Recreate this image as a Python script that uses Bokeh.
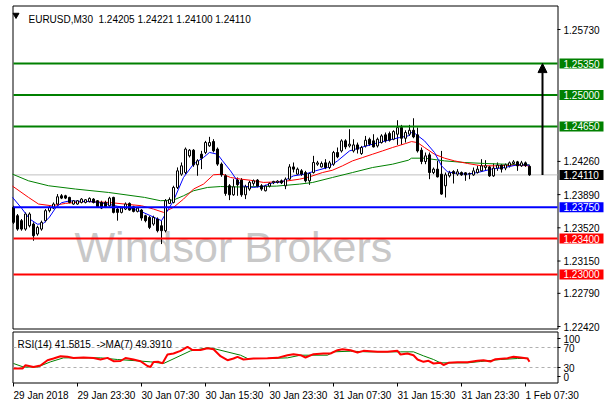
from bokeh.plotting import figure
from bokeh.models import Range1d, Arrow, NormalHead, ColumnDataSource
from bokeh.core.properties import value
from bokeh.embed import file_html
from bokeh.resources import INLINE

# ---------------- data ----------------
symbol = "EURUSD"
timeframe = "M30"
last_ohlc = [1.24205, 1.24221, 1.24100, 1.24110]
rsi_last = 41.5815
rsi_ma_last = 49.3910

opens = [1.23748, 1.23655, 1.23600, 1.23506, 1.23543, 1.23562, 1.23451, 1.23506, 1.23600, 1.23711,
         1.23740, 1.23785, 1.23877, 1.23877, 1.23859, 1.23785, 1.23785, 1.23803, 1.23803, 1.23814,
         1.23840, 1.23822, 1.23803, 1.23803, 1.23766, 1.23859, 1.23729, 1.23692, 1.23729, 1.23792,
         1.23755, 1.23703, 1.23718, 1.23655, 1.23636, 1.23562, 1.23618, 1.23543, 1.23488, 1.23792,
         1.23803, 1.23970, 1.24118, 1.24137, 1.24322, 1.24385, 1.24222, 1.24341, 1.24360, 1.24434,
         1.24482, 1.24397, 1.24230, 1.24100, 1.23989, 1.23888, 1.24052, 1.24052, 1.23888, 1.23952,
         1.24015, 1.24052, 1.23989, 1.23933, 1.23985, 1.24022, 1.24025, 1.24044, 1.23988, 1.24062,
         1.24199, 1.24118, 1.24155, 1.24136, 1.24044, 1.24136, 1.24229, 1.24199, 1.24244, 1.24192,
         1.24229, 1.24359, 1.24377, 1.24489, 1.24433, 1.24377, 1.24444, 1.24348, 1.24433, 1.24507,
         1.24489, 1.24433, 1.24470, 1.24556, 1.24570, 1.24507, 1.24563, 1.24637, 1.24518, 1.24563,
         1.24607, 1.24556, 1.24385, 1.24259, 1.24333, 1.24136, 1.24174, 1.24118, 1.23988, 1.24099,
         1.24148, 1.24118, 1.24136, 1.24133, 1.24118, 1.24110, 1.24136, 1.24155, 1.24192, 1.24199,
         1.24099, 1.24185, 1.24218, 1.24185, 1.24211, 1.24237, 1.24255, 1.24211, 1.24244, 1.24205]
highs = [1.23766, 1.23674, 1.23618, 1.23692, 1.23692, 1.23581, 1.23543, 1.23600, 1.23729, 1.23766,
         1.23803, 1.23896, 1.23896, 1.23888, 1.23866, 1.23829, 1.23829, 1.23851, 1.23840, 1.23859,
         1.23851, 1.23829, 1.23822, 1.23822, 1.23866, 1.23866, 1.23740, 1.23748, 1.23803, 1.23803,
         1.23766, 1.23748, 1.23729, 1.23666, 1.23655, 1.23655, 1.23636, 1.23600, 1.23840, 1.23859,
         1.23989, 1.24193, 1.24248, 1.24415, 1.24397, 1.24397, 1.24285, 1.24378, 1.24489, 1.24534,
         1.24508, 1.24415, 1.24248, 1.24118, 1.24007, 1.24063, 1.24081, 1.24074, 1.24000, 1.24044,
         1.24059, 1.24063, 1.24007, 1.24000, 1.24029, 1.24044, 1.24051, 1.24058, 1.24081, 1.24229,
         1.24248, 1.24192, 1.24174, 1.24155, 1.24136, 1.24322, 1.24266, 1.24259, 1.24285, 1.24266,
         1.24377, 1.24415, 1.24507, 1.24507, 1.24619, 1.24507, 1.24470, 1.24433, 1.24544, 1.24526,
         1.24563, 1.24526, 1.24563, 1.24582, 1.24593, 1.24607, 1.24719, 1.24667, 1.24607, 1.24667,
         1.24741, 1.24637, 1.24415, 1.24359, 1.24359, 1.24192, 1.24266, 1.24377, 1.24136, 1.24155,
         1.24162, 1.24174, 1.24148, 1.24140, 1.24136, 1.24192, 1.24211, 1.24285, 1.24274, 1.24211,
         1.24237, 1.24248, 1.24229, 1.24237, 1.24259, 1.24274, 1.24266, 1.24266, 1.24259, 1.24221]
lows = [1.23562, 1.23488, 1.23488, 1.23488, 1.23525, 1.23376, 1.23432, 1.23488, 1.23581, 1.23692,
        1.23729, 1.23766, 1.23840, 1.23840, 1.23792, 1.23777, 1.23777, 1.23792, 1.23792, 1.23803,
        1.23792, 1.23748, 1.23729, 1.23740, 1.23755, 1.23681, 1.23600, 1.23681, 1.23718, 1.23711,
        1.23692, 1.23692, 1.23600, 1.23581, 1.23506, 1.23543, 1.23469, 1.23339, 1.23469, 1.23785,
        1.23792, 1.23952, 1.24100, 1.24118, 1.24304, 1.24200, 1.24100, 1.24174, 1.24341, 1.24423,
        1.24360, 1.24211, 1.24089, 1.23877, 1.23829, 1.23877, 1.23877, 1.23866, 1.23840, 1.23933,
        1.23989, 1.23970, 1.23933, 1.23926, 1.23970, 1.24007, 1.24014, 1.24007, 1.23951, 1.24051,
        1.24137, 1.24110, 1.24099, 1.24025, 1.23999, 1.24125, 1.24211, 1.24192, 1.24174, 1.24174,
        1.24211, 1.24296, 1.24359, 1.24396, 1.24415, 1.24359, 1.24348, 1.24333, 1.24415, 1.24433,
        1.24415, 1.24415, 1.24459, 1.24470, 1.24481, 1.24496, 1.24444, 1.24444, 1.24470, 1.24544,
        1.24518, 1.24359, 1.24229, 1.24229, 1.24062, 1.24118, 1.24081, 1.23888, 1.23858, 1.24081,
        1.24014, 1.24099, 1.24099, 1.24044, 1.24062, 1.24099, 1.24125, 1.24148, 1.24155, 1.24088,
        1.24088, 1.24155, 1.24136, 1.24162, 1.24192, 1.24222, 1.24155, 1.24199, 1.24199, 1.24100]
closes = [1.23581, 1.23506, 1.23506, 1.23674, 1.23674, 1.23432, 1.23525, 1.23581, 1.23711, 1.23748,
          1.23785, 1.23866, 1.23851, 1.23851, 1.23803, 1.23822, 1.23822, 1.23840, 1.23833, 1.23848,
          1.23803, 1.23755, 1.23740, 1.23748, 1.23851, 1.23692, 1.23692, 1.23740, 1.23785, 1.23718,
          1.23703, 1.23740, 1.23629, 1.23600, 1.23525, 1.23636, 1.23488, 1.23488, 1.23822, 1.23836,
          1.23970, 1.24155, 1.24211, 1.24397, 1.24385, 1.24222, 1.24267, 1.24296, 1.24471, 1.24471,
          1.24378, 1.24230, 1.24111, 1.23903, 1.23888, 1.23977, 1.24000, 1.23888, 1.23977, 1.24026,
          1.24044, 1.23985, 1.23952, 1.23985, 1.24015, 1.24037, 1.24040, 1.24021, 1.24062, 1.24199,
          1.24174, 1.24174, 1.24118, 1.24044, 1.24125, 1.24248, 1.24244, 1.24237, 1.24192, 1.24244,
          1.24359, 1.24311, 1.24489, 1.24422, 1.24452, 1.24444, 1.24396, 1.24415, 1.24496, 1.24452,
          1.24422, 1.24507, 1.24544, 1.24489, 1.24496, 1.24593, 1.24637, 1.24518, 1.24582, 1.24607,
          1.24533, 1.24377, 1.24259, 1.24322, 1.24136, 1.24174, 1.24088, 1.23896, 1.24110, 1.24133,
          1.24125, 1.24144, 1.24110, 1.24110, 1.24125, 1.24155, 1.24174, 1.24211, 1.24211, 1.24099,
          1.24185, 1.24218, 1.24174, 1.24222, 1.24244, 1.24255, 1.24211, 1.24244, 1.24214, 1.24110]

# moving averages read at sample bars (bar index, price)
ma_fast_idx = [-0.25, 2, 4, 6, 7.5, 9, 10.5, 12, 14, 17, 20, 23, 26, 29, 32, 34, 37, 40, 42.5, 45,
               47.5, 49, 51, 52.25, 54.25, 56, 57.5, 60, 62.5, 65, 67, 70, 73, 75.5, 78.5, 81, 84,
               86.5, 89.75, 93, 96.5, 98.75, 99.5, 100.25, 102.75, 105.25, 107, 108.5, 111, 113.5,
               116, 119.5, 122.75, 126, 129]
ma_fast_val = [1.23860, 1.23740, 1.23620, 1.23560, 1.23570, 1.23640, 1.23740, 1.23800, 1.23820, 1.23815,
               1.23810, 1.23790, 1.23760, 1.23740, 1.23700, 1.23660, 1.23600, 1.23822, 1.24081, 1.24230,
               1.24304, 1.24360, 1.24340, 1.24267, 1.24155, 1.24040, 1.23985, 1.23970, 1.23985, 1.24025,
               1.24030, 1.24099, 1.24120, 1.24155, 1.24192, 1.24266, 1.24377, 1.24410, 1.24452, 1.24489,
               1.24526, 1.24545, 1.24582, 1.24575, 1.24489, 1.24359, 1.24211, 1.24144, 1.24125, 1.24118,
               1.24136, 1.24174, 1.24192, 1.24222, 1.24218]
ma_mid_idx = [-0.25, 3.75, 6.25, 9.5, 13, 18, 23.75, 32, 35, 37.5, 40, 42.5, 45, 47.5, 50, 52.25, 54.25,
              56.75, 59.25, 62.5, 65, 68, 71.5, 74, 77.25, 79.75, 82.25, 84.75, 87.25, 89.75, 92.25,
              94.75, 98, 99.5, 101, 102.75, 105.25, 107.75, 110.25, 113.5, 117, 120.25, 125.25, 129]
ma_mid_val = [1.23985, 1.23859, 1.23785, 1.23766, 1.23792, 1.23814, 1.23803, 1.23766, 1.23729, 1.23692,
              1.23748, 1.23840, 1.23952, 1.24007, 1.24111, 1.24118, 1.24081, 1.24063, 1.24050, 1.24026,
              1.24030, 1.24040, 1.24062, 1.24088, 1.24136, 1.24162, 1.24211, 1.24266, 1.24303, 1.24340,
              1.24377, 1.24415, 1.24459, 1.24481, 1.24470, 1.24415, 1.24340, 1.24296, 1.24266, 1.24237,
              1.24211, 1.24211, 1.24218, 1.24211]
ma_slow_idx = [-0.25, 3.75, 8.75, 15.5, 23.75, 32.75, 36.75, 40, 42.5, 45, 48.5, 51.75, 56.75, 65.75,
               71.5, 74.75, 79.75, 84.75, 89.75, 94.75, 98.75, 99.5, 102.75, 107.75, 112.75, 117.75,
               122.75, 129]
ma_slow_val = [1.24118, 1.24044, 1.23989, 1.23952, 1.23914, 1.23859, 1.23822, 1.23830, 1.23877, 1.23933,
               1.23970, 1.23980, 1.23975, 1.23985, 1.24007, 1.24025, 1.24081, 1.24136, 1.24192, 1.24229,
               1.24274, 1.24296, 1.24296, 1.24266, 1.24248, 1.24237, 1.24229, 1.24222]

# RSI(14) and its MA(7), read at sample bars
rsi_idx = [0, 2.25, 3, 5, 6.75, 8.5, 10, 11.75, 13.5, 15, 17.5, 20, 21.75, 23.5, 25, 26.75, 28, 30,
           31.75, 33.5, 34.25, 35, 36.25, 37.25, 38.5, 40, 41.75, 43.5, 44.75, 46.75, 48.5, 50, 51.75,
           53.5, 55, 56, 57.5, 60, 63.5, 66, 68.5, 70, 71.75, 73, 75, 77.5, 79.25, 81, 82.25, 84.25, 86,
           87.5, 91, 93.5, 96, 96.75, 98.5, 100, 101, 102.5, 103.75, 105, 106.75, 107.5, 108.75, 111,
           113.5, 116, 117.5, 119.25, 120.5, 123.5, 125, 126.75, 128.5, 129]
rsi_val = [28, 28, 34.6, 31, 34, 44.6, 48, 52.6, 51.3, 49, 50, 49, 46, 49.3, 42.6, 43, 49, 46,
           42.6, 33, 31, 41, 41.3, 38.6, 56, 58, 63.3, 71.3, 65, 65, 68.6, 66.6, 52.6,
           44.6, 48, 51.3, 46, 48, 48.6, 49.3, 54.6, 56.6, 54.6, 50, 56.6, 58, 58, 64.6, 66.6, 64.6, 60,
           63.3, 61.3, 61.3, 63.3, 56, 58, 54.6, 46, 41.3, 43.3, 38, 39.3, 35, 39.3, 40.6,
           40.6, 43.3, 44.6, 42, 46.6, 48.6, 51.3, 50, 48, 41.58]
rsi_ma_idx = [0, 2.5, 6, 9.25, 12.5, 21.75, 26, 31, 34.25, 37.5, 44.25, 48.5, 50, 56.75, 58.5, 63.5,
              68.5, 71.75, 74.25, 78.5, 80, 84.25, 88.5, 96.75, 100, 102.5, 105, 106.75, 113.5, 116.75,
              121.75, 126, 128.75]
rsi_ma_val = [38, 31, 31, 41.3, 49.3, 49.3, 46, 43.3, 41.3, 38, 63.3, 69.3, 68, 54.6, 48, 48,
              49.3, 54.6, 54.6, 54.6, 61.3, 62.6, 61.3, 61.3, 61.3, 53.3, 46, 39.3, 39.3, 42,
              46, 48, 48.6]
rsi_levels = [70, 30]
rsi_tick_vals = [88, 70, 30, 12]
rsi_tick_labels = ["100", "70", "30", "0"]

# horizontal levels
level_prices = [1.25350, 1.25000, 1.24650, 1.23750, 1.23400, 1.23000]
level_colors = ["#008000", "#008000", "#008000", "#0000FF", "#FF0000", "#FF0000"]
current_price = 1.24110
target_price = 1.25350

price_ticks = [1.25730, 1.24260, 1.23890, 1.23520, 1.23150, 1.22790, 1.22420]
time_tick_idx = [0, 16, 32, 48, 64, 80, 96, 112, 128]
time_tick_labels = ["29 Jan 2018", "29 Jan 23:30", "30 Jan 07:30", "30 Jan 15:30", "30 Jan 23:30",
                    "31 Jan 07:30", "31 Jan 15:30", "31 Jan 23:30", "1 Feb 07:30"]
watermark = "Windsor Brokers"

# ---------------- layout geometry (pixels) ----------------
W, H = 606, 404
FONT = value("Liberation Sans")
FS = "10px"
NB = "\u00a0"


def xd(px):      # pixel column -> bar index
    return (px - 13) / 4.0


def yd(py):      # pixel row -> price
    return 1.25730 - (py - 29) / 8974.0


def rd(py):      # pixel row -> RSI value
    return (382 - py) / 0.5


PX = 1 / 8974.0  # one pixel in price units

p = figure(width=W, height=H, x_range=Range1d(xd(0), xd(W)), y_range=Range1d(yd(H), yd(0)),
           output_backend="svg", toolbar_location=None, min_border=0,
           x_axis_location=None, y_axis_location=None)
p.extra_y_ranges = {"rsi": Range1d(rd(H), rd(0))}
p.grid.visible = False
p.outline_line_color = None
p.background_fill_color = "white"
p.border_fill_color = "white"

# watermark
p.text(x=[xd(74)], y=[yd(246)], text=[watermark], text_font=FONT,
       text_font_size="43px", text_color="#C8C8C8", text_align="left", text_baseline="alphabetic")

# panel frames
p.quad(left=[xd(12.5), xd(12.5)], right=[xd(557.5), xd(557.5)],
       top=[yd(5.5), yd(331.5)], bottom=[yd(328.5), yd(382.5)],
       fill_color=None, line_color="black", line_width=1)

# current price line
p.segment(x0=[xd(13)], x1=[xd(557)], y0=[current_price], y1=[current_price],
          line_color="#C0C0C0", line_width=1)

# candles
idx = list(range(len(closes)))
bull = [c >= o for o, c in zip(opens, closes)]
src = ColumnDataSource(dict(
    x=idx, high=highs, low=lows,
    top=[max(o, c) for o, c in zip(opens, closes)],
    bottom=[min(o, c) for o, c in zip(opens, closes)],
    fill=["white" if b else "black" for b in bull]))
p.segment(x0="x", y0="low", x1="x", y1="high", source=src, line_color="black", line_width=1)

# moving averages
p.line(ma_slow_idx, ma_slow_val, line_color="#008000", line_width=1)
p.line(ma_mid_idx, ma_mid_val, line_color="#FF0000", line_width=1)
p.line(ma_fast_idx, ma_fast_val, line_color="#0000FF", line_width=1)

p.vbar(x="x", top="top", bottom="bottom", width=0.5, source=src, fill_color="fill",
       line_color="black", line_width=1)

# horizontal levels
n = len(level_prices)
p.segment(x0=[xd(13)] * n, x1=[xd(557)] * n, y0=level_prices, y1=level_prices,
          line_color=level_colors, line_width=2)

# arrow to target
p.add_layout(Arrow(end=NormalHead(size=9, fill_color="black", line_color="black"),
                   x_start=xd(542), y_start=current_price, x_end=xd(542), y_end=target_price,
                   line_color="black", line_width=2))

# right price scale
m = len(price_ticks)
p.segment(x0=[xd(557)] * m, x1=[xd(560)] * m, y0=price_ticks, y1=price_ticks, line_color="black")
p.text(x=[xd(563)] * m, y=price_ticks, text=[f"{t:.5f}" for t in price_ticks], text_font=FONT,
       text_font_size=FS, text_color="black", text_baseline="middle", text_align="left")

# price boxes for levels
box_prices = level_prices + [current_price]
box_colors = level_colors + ["black"]
k = len(box_prices)
p.quad(left=[xd(559)] * k, right=[xd(603)] * k, top=[v + 5 * PX for v in box_prices],
       bottom=[v - 5 * PX for v in box_prices], fill_color=box_colors, line_color=None)
p.text(x=[xd(563)] * k, y=box_prices, text=[f"{v:.5f}" for v in box_prices], text_font=FONT,
       text_font_size=FS, text_color="white", text_baseline="middle", text_align="left")

# title
p.scatter(x=[xd(15.5)], y=[yd(14.5)], marker="inverted_triangle", size=6, color="black")
title = f"{symbol},{timeframe}{NB}{NB}" + " ".join(f"{v:.5f}" for v in last_ohlc)
p.text(x=[xd(28)], y=[yd(18.5)], text=[title], text_font=FONT, text_font_size=FS,
       text_color="black", text_baseline="alphabetic", text_align="left")

# ---------------- RSI panel ----------------
nl = len(rsi_levels)
p.segment(x0=[xd(13)] * nl, x1=[xd(557)] * nl, y0=rsi_levels, y1=rsi_levels, y_range_name="rsi",
          line_color="#B0B0B0", line_width=1, line_dash="3 3")
p.line(rsi_ma_idx, rsi_ma_val, y_range_name="rsi", line_color="#008000", line_width=1)
p.line(rsi_idx, rsi_val, y_range_name="rsi", line_color="#FF0000", line_width=2)

p.text(x=[xd(17)], y=[rd(343.5)], y_range_name="rsi",
       text=[f"RSI(14) {rsi_last:.4f}{NB}{NB}->MA(7) {rsi_ma_last:.4f}"],
       text_font=FONT, text_font_size=FS, text_color="black", text_baseline="alphabetic")

rt = len(rsi_tick_vals)
p.segment(x0=[xd(557)] * rt, x1=[xd(560)] * rt, y0=rsi_tick_vals, y1=rsi_tick_vals,
          y_range_name="rsi", line_color="black")
p.text(x=[xd(563)] * rt, y=rsi_tick_vals, y_range_name="rsi", text=rsi_tick_labels, text_font=FONT,
       text_font_size=FS, text_color="black", text_baseline="middle", text_align="left")

# time axis
tt = len(time_tick_idx)
p.segment(x0=time_tick_idx, x1=time_tick_idx, y0=[rd(382.5)] * tt, y1=[rd(386)] * tt,
          y_range_name="rsi", line_color="black")
p.text(x=time_tick_idx, y=[rd(395)] * tt, y_range_name="rsi", text=time_tick_labels,
       text_font=FONT, text_font_size=FS, text_color="black", text_baseline="alphabetic",
       text_align="left")

open("out.html", "w").write(file_html(p, INLINE))
